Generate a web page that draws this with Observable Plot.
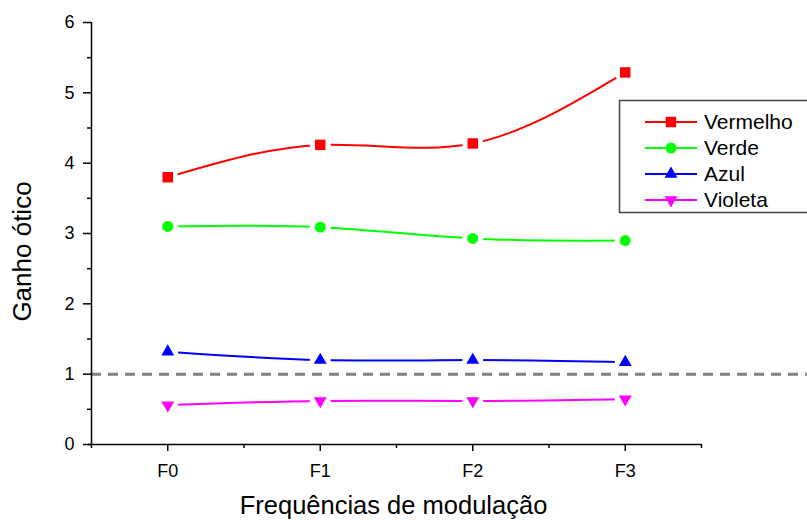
<!DOCTYPE html>
<html>
<head>
<meta charset="utf-8">
<script src="https://cdn.jsdelivr.net/npm/d3@7"></script>
<script src="https://cdn.jsdelivr.net/npm/@observablehq/plot@0.6"></script>
<style>
  body { margin: 0; background: #fff; }
  #wrap { position: relative; width: 807px; height: 520px; overflow: hidden; font-family: "Liberation Sans", Arial, sans-serif; }
  #wrap svg { font-family: "Liberation Sans", Arial, sans-serif; }
  #legend { position: absolute; left: 0; top: 0; }
</style>
</head>
<body>
<div id="wrap"></div>
<script>
const categories = ["F0", "F1", "F2", "F3"];
const seriesNames = ["Vermelho", "Verde", "Azul", "Violeta"];
const vermelho = [3.80, 4.26, 4.28, 5.29];
const verde = [3.10, 3.09, 2.93, 2.90];
const azul = [1.32, 1.20, 1.20, 1.17];
const violeta = [0.56, 0.62, 0.62, 0.645];
const seriesColors = ["#ff0000", "#00ff00", "#0000ff", "#ff00ff"];
const seriesSymbols = ["square", "circle", "triangle", "triangle"];
const seriesRotate = [0, 0, 0, 180];
const seriesR = [5.9, 5.5, 4.8, 4.8];
const yTicks = [0, 1, 2, 3, 4, 5, 6];
const yMinor = [0.5, 1.5, 2.5, 3.5, 4.5, 5.5];
const xMinor = [-0.5, 0.5, 1.5, 2.5, 3.5];
const refValue = 1;
const xLabel = "Frequências de modulação";
const yLabel = "Ganho ótico";

const seriesValues = [vermelho, verde, azul, violeta];
const rows = [];
seriesValues.forEach((vals, s) => vals.forEach((v, i) => rows.push({serie: seriesNames[s], s, i, value: v})));

const marks = [
  Plot.ruleY([refValue], {x1: -0.5, x2: 4.2, stroke: "#808080", strokeWidth: 3, strokeDasharray: "10,7"}),
];
seriesNames.forEach((name, s) => {
  marks.push(Plot.line(rows.filter(d => d.s === s), {x: "i", y: "value", stroke: seriesColors[s], strokeWidth: 2, curve: "natural"}));
});
marks.push(Plot.dot(rows, {x: "i", y: "value", r: 10.5, fill: "white", stroke: "none"}));
seriesNames.forEach((name, s) => {
  marks.push(Plot.dot(rows.filter(d => d.s === s), {x: "i", y: "value", r: seriesR[s], symbol: seriesSymbols[s], rotate: seriesRotate[s], fill: seriesColors[s], stroke: "none"}));
});
marks.push(
  Plot.ruleX([-0.5], {y1: 0, y2: 6, stroke: "black", strokeWidth: 1.5}),
  Plot.ruleY([0], {x1: -0.52, x2: 3.5, stroke: "black", strokeWidth: 1.5}),
  Plot.axisY({ticks: yTicks, tickSize: 8, tickPadding: 9, fontSize: 18, label: null, strokeWidth: 1.5, tickFormat: d => String(d)}),
  Plot.axisY({ticks: yMinor, tickSize: 4, label: null, strokeWidth: 1.5, tickFormat: () => ""}),
  Plot.axisX({ticks: [0, 1, 2, 3], tickSize: 7, tickPadding: 13, fontSize: 18, label: null, strokeWidth: 1.5, tickFormat: i => categories[i]}),
  Plot.axisX({ticks: xMinor, tickSize: 4, label: null, strokeWidth: 1.5, tickFormat: () => ""}),
  Plot.text([xLabel], {frameAnchor: "bottom", dx: -3, dy: 61, lineAnchor: "middle", textAnchor: "middle", fontSize: 25.5, fill: "black"}),
  Plot.text([yLabel], {frameAnchor: "left", rotate: -90, dx: -69, dy: 18, lineAnchor: "middle", textAnchor: "middle", fontSize: 26, fill: "black"})
);

const chart = Plot.plot({
  width: 807,
  height: 520,
  marginLeft: 91,
  marginRight: 106,
  marginTop: 22,
  marginBottom: 76,
  style: {fontFamily: "Liberation Sans, Arial, sans-serif", background: "white", overflow: "visible"},
  x: {type: "linear", domain: [-0.5, 3.5]},
  y: {domain: [0, 6]},
  marks
});
const wrap = document.getElementById("wrap");
wrap.appendChild(chart);

// Legend overlay
const leg = d3.select(wrap).append("svg").attr("id", "legend").attr("width", 807).attr("height", 520);
leg.append("rect").attr("x", 619.5).attr("y", 100.5).attr("width", 220).attr("height", 112)
  .attr("fill", "white").attr("stroke", "#444").attr("stroke-width", 1.5);
const symMap = {square: d3.symbolSquare, circle: d3.symbolCircle, triangle: d3.symbolTriangle};
seriesNames.forEach((name, s) => {
  const y = 122 + s * 26;
  const g = leg.append("g");
  g.append("line").attr("x1", 645).attr("x2", 697).attr("y1", y).attr("y2", y).attr("stroke", seriesColors[s]).attr("stroke-width", 2);
  g.append("path").attr("d", d3.symbol(symMap[seriesSymbols[s]], Math.PI * seriesR[s] * seriesR[s])())
    .attr("transform", `translate(671,${y}) rotate(${seriesRotate[s]})`).attr("fill", seriesColors[s]);
  g.append("text").attr("x", 704).attr("y", y).attr("dy", "0.35em").attr("font-size", 21).attr("fill", "black")
    .attr("font-family", "Liberation Sans, Arial, sans-serif").text(name);
});
</script>
</body>
</html>
